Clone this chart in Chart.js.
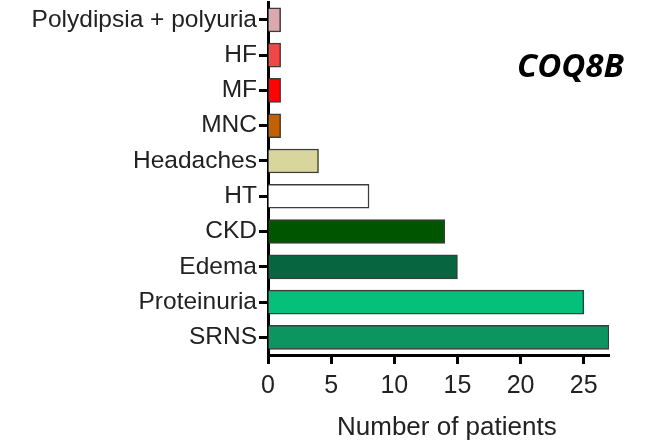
<!DOCTYPE html>
<html>
<head>
<meta charset="utf-8">
<script src="https://cdn.jsdelivr.net/npm/chart.js@4/dist/chart.umd.min.js"></script>
<style>
  html, body { margin: 0; padding: 0; background: #fff; }
  #wrap { position: relative; width: 646px; height: 443px; }
  #gene { position: absolute; left: 517px; top: 48px; font-family: "Open Sans", sans-serif; font-weight: 700; font-style: italic; font-size: 33px; color: #000; line-height: 1; letter-spacing: 0px; }
  #xtitle { position: absolute; left: 337px; top: 413px; font-family: "Liberation Sans", Arial, sans-serif; font-size: 26px; color: #222; line-height: 1; white-space: nowrap; }
</style>
</head>
<body>
<div id="wrap">
  <canvas id="c" width="646" height="443"></canvas>
  <div id="gene">COQ8B</div>
  <div id="xtitle"></div>
</div>
<script>
const categories = ["Polydipsia + polyuria", "HF", "MF", "MNC", "Headaches", "HT", "CKD", "Edema", "Proteinuria", "SRNS"];
const patients = [1, 1, 1, 1, 4, 8, 14, 15, 25, 27];
const barColors = ["#d9a9ae", "#f04848", "#fb0505", "#c26006", "#d8d69c", "#ffffff", "#005500", "#07653f", "#04c07b", "#0c9461"];
const xTicks = [0, 5, 10, 15, 20, 25];
const xAxisTitle = "Number of patients";

document.getElementById('xtitle').textContent = xAxisTitle;

new Chart(document.getElementById('c'), {
  type: 'bar',
  data: {
    labels: categories,
    datasets: [{
      data: patients,
      backgroundColor: barColors,
      borderColor: '#3c3c3c',
      borderWidth: 1.5,
      barThickness: 24
    }]
  },
  options: {
    indexAxis: 'y',
    responsive: false,
    animation: false,
    layout: { padding: { top: 0, right: 37, left: 0, bottom: 0 } },
    plugins: { legend: { display: false }, tooltip: { enabled: false } },
    scales: {
      y: {
        grid: { offset: false, drawOnChartArea: false, tickLength: 9, tickWidth: 3, tickColor: '#000' },
        border: { color: '#000', width: 3 },
        ticks: { color: '#222', font: { family: 'Liberation Sans', size: 24.5, lineHeight: 0.02 }, padding: 2 },
        afterFit: s => { s.width = 268; }
      },
      x: {
        min: 0, max: 27,
        grid: { drawOnChartArea: false, tickLength: 9, tickWidth: 3, tickColor: '#000' },
        border: { color: '#000', width: 3 },
        afterBuildTicks: s => { s.ticks = xTicks.map(v => ({ value: v })); },
        ticks: { color: '#222', font: { family: 'Liberation Sans', size: 25 }, padding: 7 },
        afterFit: s => { s.height = 88; }
      }
    }
  }
});
</script>
</body>
</html>
